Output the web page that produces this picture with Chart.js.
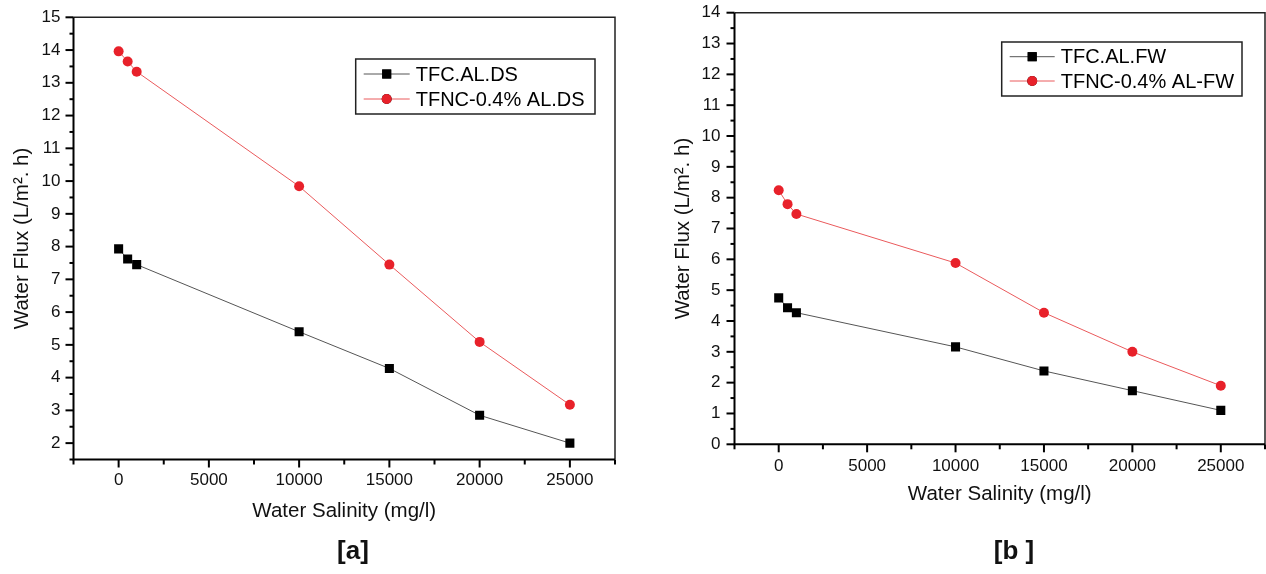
<!DOCTYPE html>
<html>
<head>
<meta charset="utf-8">
<script src="https://cdn.jsdelivr.net/npm/chart.js@4"></script>
<style>
  body { margin: 0; background: #fff; }
  #wrap { position: relative; width: 1266px; height: 574px; overflow: hidden; }
  canvas { position: absolute; top: 0; }
  .cap { position: absolute; font: bold 26px "Liberation Sans", Arial, sans-serif; color: #111; transform: translate(-50%, -50%); white-space: pre; }
</style>
</head>
<body>
<div id="wrap">
  <canvas id="chartA" width="640" height="574" style="left:0"></canvas>
  <canvas id="chartB" width="630" height="574" style="left:650px"></canvas>
  <div class="cap" style="left:353px; top:550px">[a]</div>
  <div class="cap" style="left:1014px; top:550px">[b ]</div>
</div>
<script>
// salinity (mg/l) and water flux values
const salinity = [0, 500, 1000, 10000, 15000, 20000, 25000];
const fluxTfcDs = [7.93, 7.62, 7.45, 5.40, 4.28, 2.85, 2.00];
const fluxTfncDs = [13.96, 13.65, 13.34, 9.84, 7.45, 5.09, 3.17];
const fluxTfcFw = [4.75, 4.43, 4.27, 3.16, 2.38, 1.74, 1.10];
const fluxTfncFw = [8.24, 7.79, 7.47, 5.88, 4.27, 3.00, 1.90];

const xMajor = [0, 5000, 10000, 15000, 20000, 25000];
const xMinor = [-2500, 2500, 7500, 12500, 17500, 22500, 27500];
const yMajorA = [2, 3, 4, 5, 6, 7, 8, 9, 10, 11, 12, 13, 14, 15];
const yMinorA = [1.5, 2.5, 3.5, 4.5, 5.5, 6.5, 7.5, 8.5, 9.5, 10.5, 11.5, 12.5, 13.5, 14.5];
const yMajorB = [0, 1, 2, 3, 4, 5, 6, 7, 8, 9, 10, 11, 12, 13, 14];
const yMinorB = [0.5, 1.5, 2.5, 3.5, 4.5, 5.5, 6.5, 7.5, 8.5, 9.5, 10.5, 11.5, 12.5, 13.5];

const FONT = '"Liberation Sans", Arial, sans-serif';
Chart.defaults.font.family = FONT;
Chart.defaults.color = '#111';

function pts(ys) {
  return salinity.map((x, i) => ({x: x, y: ys[i]}));
}

// frame + outward major/minor tick marks
const framePlugin = {
  id: 'frame',
  beforeDatasetsDraw(chart) {
    const {ctx, chartArea: a} = chart;
    const o = chart.options.plugins.frame;
    const xs = chart.scales.x, ys = chart.scales.y;
    ctx.save();
    ctx.strokeStyle = '#000';
    ctx.lineWidth = 2;
    const tick = (vals, len) => {
      vals.forEach(v => {
        const px = xs.getPixelForValue(v);
        ctx.beginPath(); ctx.moveTo(px, a.bottom); ctx.lineTo(px, a.bottom + len); ctx.stroke();
      });
    };
    const ytick = (vals, len) => {
      vals.forEach(v => {
        const py = ys.getPixelForValue(v);
        ctx.beginPath(); ctx.moveTo(a.left, py); ctx.lineTo(a.left - len, py); ctx.stroke();
      });
    };
    tick(xMajor, 8); tick(xMinor, 5);
    ytick(o.yMajor, 8); ytick(o.yMinor, 4);
    ctx.lineWidth = 1.5;
    ctx.strokeStyle = '#222';
    ctx.beginPath();
    ctx.moveTo(a.left, a.top); ctx.lineTo(a.right, a.top); ctx.lineTo(a.right, a.bottom);
    ctx.stroke();
    ctx.lineWidth = 2;
    ctx.strokeStyle = '#000';
    ctx.beginPath();
    ctx.moveTo(a.left, a.top); ctx.lineTo(a.left, a.bottom); ctx.lineTo(a.right, a.bottom);
    ctx.stroke();
    ctx.restore();
  }
};

// boxed legend inside the plot
const boxLegend = {
  id: 'boxLegend',
  afterDraw(chart) {
    const {ctx} = chart;
    const b = chart.options.plugins.boxLegend;
    ctx.save();
    ctx.lineWidth = 1.5;
    ctx.strokeStyle = '#222';
    ctx.strokeRect(b.x, b.y, b.w, b.h);
    ctx.font = '20px ' + FONT;
    ctx.textBaseline = 'middle';
    ctx.fillStyle = '#000';
    chart.data.datasets.forEach((ds, i) => {
      const cy = b.y + b.row0 + i * b.rowGap;
      ctx.strokeStyle = ds.borderColor;
      ctx.lineWidth = 1;
      ctx.beginPath(); ctx.moveTo(b.x + 8, cy); ctx.lineTo(b.x + 8 + b.lineLen, cy); ctx.stroke();
      Chart.helpers.drawPoint(ctx, {
        pointStyle: ds.pointStyle, radius: ds.pointRadius, borderWidth: 0, rotation: 0
      }, b.x + 8 + b.lineLen / 2, cy);
      ctx.fillStyle = ds.pointBackgroundColor;
      ctx.fill();
      ctx.fillStyle = '#000';
      ctx.fillText(ds.label, b.x + b.textX, cy + 1);
    });
    ctx.restore();
  }
};

function makeChart(id, blackLabel, redLabel, blackData, redData, cfg) {
  return new Chart(document.getElementById(id), {
    type: 'line',
    data: {
      datasets: [
        {
          label: blackLabel,
          data: pts(blackData),
          borderColor: '#555',
          borderWidth: 1,
          pointStyle: 'rect',
          pointRadius: 6.4,
          pointBackgroundColor: '#000',
          pointBorderWidth: 0
        },
        {
          label: redLabel,
          data: pts(redData),
          borderColor: '#ea5a5c',
          borderWidth: 1,
          pointStyle: 'circle',
          pointRadius: 5,
          pointBackgroundColor: '#e8212a',
          pointBorderWidth: 0
        }
      ]
    },
    options: {
      responsive: false,
      animation: false,
      devicePixelRatio: 1,
      layout: {padding: cfg.padding},
      plugins: {
        legend: {display: false},
        tooltip: {enabled: false},
        frame: {yMajor: cfg.yMajor, yMinor: cfg.yMinor},
        boxLegend: cfg.legend
      },
      scales: {
        x: {
          type: 'linear',
          min: -2500,
          max: 27500,
          afterBuildTicks: s => { s.ticks = xMajor.map(v => ({value: v})); },
          afterFit: s => { s.height = cfg.xHeight; s.paddingLeft = 0; s.paddingRight = 0; },
          grid: {display: false, drawTicks: false},
          border: {display: false},
          ticks: {font: {size: 17}, padding: cfg.xPad, maxRotation: 0, autoSkip: false,
                  callback: v => String(v)},
          title: {display: true, text: 'Water Salinity (mg/l)', font: {size: 20.5}, color: '#111',
                  padding: {top: 0, bottom: cfg.xTitlePad}}
        },
        y: {
          type: 'linear',
          min: cfg.yMin,
          max: cfg.yMax,
          afterBuildTicks: s => { s.ticks = cfg.yMajor.map(v => ({value: v})); },
          afterFit: s => { s.width = cfg.yWidth; s.paddingTop = 0; s.paddingBottom = 0; },
          grid: {display: false, drawTicks: false},
          border: {display: false},
          ticks: {font: {size: 17}, padding: cfg.yPad, autoSkip: false,
                  callback: v => String(v)},
          title: {display: true, text: 'Water Flux (L/m². h)', font: {size: 20.5}, color: '#111',
                  padding: {top: cfg.yTitlePad, bottom: 0}}
        }
      }
    },
    plugins: [framePlugin, boxLegend]
  });
}

makeChart('chartA', 'TFC.AL.DS', 'TFNC-0.4% AL.DS', fluxTfcDs, fluxTfncDs, {
  padding: {left: 0, top: 17.3, right: 25, bottom: 0},
  xHeight: 114.5, yWidth: 73.5,
  xPad: 10.5, yPad: 13, xTitlePad: 50.4, yTitlePad: 10.5,
  yMin: 1.5, yMax: 15, yMajor: yMajorA, yMinor: yMinorA,
  legend: {x: 355.7, y: 59, w: 239.3, h: 55, row0: 15, rowGap: 25, lineLen: 46, textX: 60}
});

makeChart('chartB', 'TFC.AL.FW', 'TFNC-0.4% AL-FW', fluxTfcFw, fluxTfncFw, {
  padding: {left: 0, top: 12.7, right: 15, bottom: 0},
  xHeight: 129.7, yWidth: 84.5,
  xPad: 11.5, yPad: 14, xTitlePad: 67.4, yTitlePad: 21.5,
  yMin: 0, yMax: 14, yMajor: yMajorB, yMinor: yMinorB,
  legend: {x: 351.7, y: 42, w: 240.3, h: 54, row0: 14.7, rowGap: 24.3, lineLen: 45, textX: 59}
});
</script>
</body>
</html>
